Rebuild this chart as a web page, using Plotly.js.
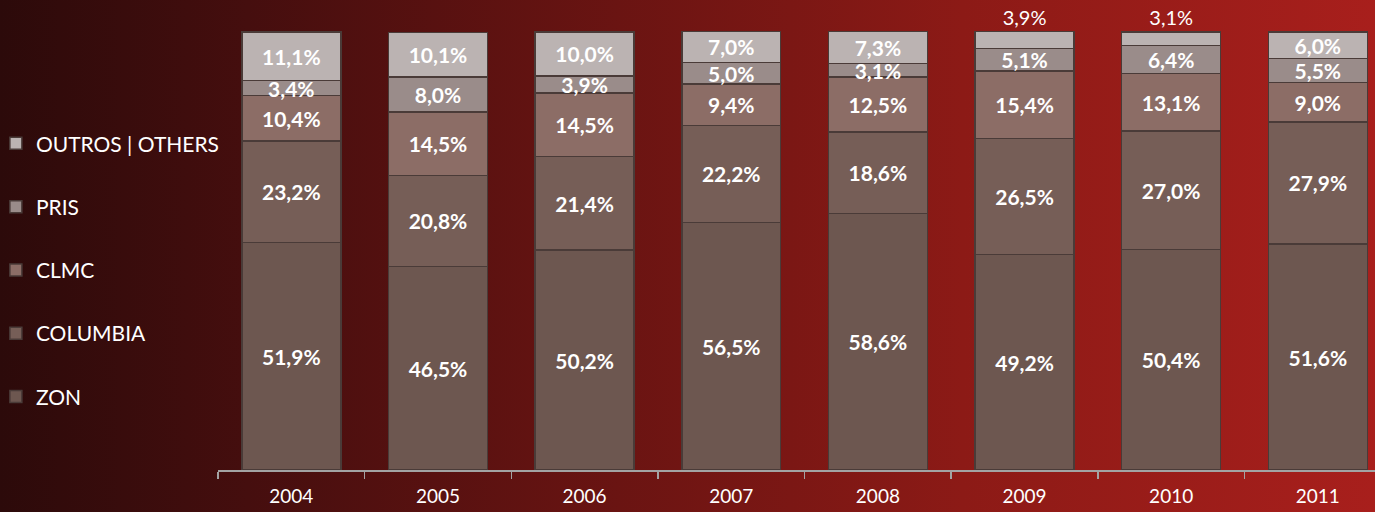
<!DOCTYPE html>
<html>
<head>
<meta charset="utf-8">
<script src="https://cdn.plot.ly/plotly-3.0.1.min.js"></script>
<style>
  html, body { margin: 0; padding: 0; }
  #chart {
    width: 1375px; height: 512px;
    background: linear-gradient(to right, #2c0a0a 0%, #450e0e 18%, #6a1412 45%, #8c1a16 70%, #a81f1c 100%);
  }
</style>
</head>
<body>
<div id="chart"></div>
<script>
const years = ['2004', '2005', '2006', '2007', '2008', '2009', '2010', '2011'];
const zon      = [51.9, 46.5, 50.2, 56.5, 58.6, 49.2, 50.4, 51.6];
const columbia = [23.2, 20.8, 21.4, 22.2, 18.6, 26.5, 27.0, 27.9];
const clmc     = [10.4, 14.5, 14.5, 9.4, 12.5, 15.4, 13.1, 9.0];
const pris     = [3.4, 8.0, 3.9, 5.0, 3.1, 5.1, 6.4, 5.5];
const outros   = [11.1, 10.1, 10.0, 7.0, 7.3, 3.9, 3.1, 6.0];
const outrosLabelPos = ['inside', 'inside', 'inside', 'inside', 'inside', 'outside', 'outside', 'inside'];

const FONT = 'Lato, "Open Sans", sans-serif';
const series = [
  {name: 'ZON', y: zon, color: '#6d5750', rank: 5},
  {name: 'COLUMBIA', y: columbia, color: '#765e57', rank: 4},
  {name: 'CLMC', y: clmc, color: '#8c6d66', rank: 3},
  {name: 'PRIS', y: pris, color: '#9a8c8a', rank: 2},
  {name: 'OUTROS | OTHERS', y: outros, color: '#bbb3b2', rank: 1, pos: outrosLabelPos}
];

const traces = series.map(s => ({
  type: 'bar',
  name: s.name,
  x: years,
  y: s.y,
  legendgroup: s.name,
  legendrank: s.rank,
  marker: {color: s.color, line: {color: '#4a3b38', width: 1.5}},
  texttemplate: '%{y:.1f}%',
  textposition: s.pos || 'inside',
  insidetextanchor: 'middle',
  textangle: 0,
  constraintext: 'none',
  cliponaxis: false,
  insidetextfont: {family: FONT, size: 21, color: '#ffffff', weight: 'bold'},
  outsidetextfont: {family: FONT, size: 20, color: '#ffffff', weight: 'normal'},
  hoverinfo: 'skip'
}));

const layout = {
  width: 1375,
  height: 512,
  paper_bgcolor: 'rgba(0,0,0,0)',
  plot_bgcolor: 'rgba(0,0,0,0)',
  margin: {l: 0, r: 0, t: 31, b: 42, autoexpand: false},
  barmode: 'stack',
  bargap: 0.325,
  separators: ',.',
  font: {family: FONT, color: '#ffffff'},
  showlegend: true,
  legend: {
    x: -0.003, xanchor: 'left',
    y: 0.79, yanchor: 'top',
    traceorder: 'grouped',
    tracegroupgap: 33,
    font: {family: FONT, size: 21, color: '#ffffff'},
    bgcolor: 'rgba(0,0,0,0)'
  },
  xaxis: {
    type: 'category',
    domain: [218 / 1375, 1],
    range: [-0.5, 7.39],
    showgrid: false,
    zeroline: false,
    showline: true,
    linecolor: '#a3a3a3',
    linewidth: 1.5,
    ticks: 'outside',
    tickson: 'boundaries',
    ticklen: 7,
    tickcolor: '#a3a3a3',
    tickwidth: 1.5,
    ticklabelstandoff: 9,
    tickfont: {family: FONT, size: 19, color: '#ffffff'},
    fixedrange: true
  },
  yaxis: {
    range: [0, 100.25],
    visible: false,
    showgrid: false,
    zeroline: false,
    fixedrange: true
  }
};

Plotly.newPlot('chart', traces, layout, {displayModeBar: false, staticPlot: true});
</script>
</body>
</html>
